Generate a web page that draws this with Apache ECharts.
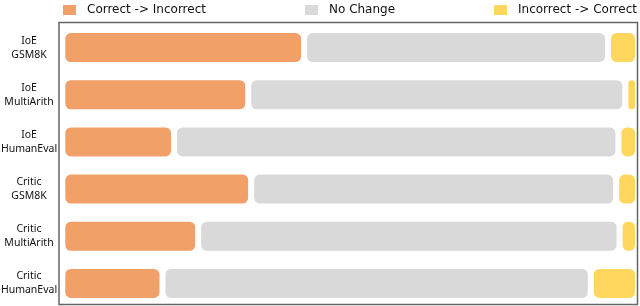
<!DOCTYPE html>
<html>
<head>
<meta charset="utf-8">
<script src="https://cdn.jsdelivr.net/npm/echarts@6/dist/echarts.min.js"></script>
<style>html,body{margin:0;padding:0;background:#fff;}#c{width:640px;height:306px;}</style>
</head>
<body>
<div id="c"></div>
<script>
const categories = ['IoE\nGSM8K', 'IoE\nMultiArith', 'IoE\nHumanEval', 'Critic\nGSM8K', 'Critic\nMultiArith', 'Critic\nHumanEval'];
const seriesNames = ['Correct -> Incorrect', 'No Change', 'Incorrect -> Correct'];
const correctToIncorrect = [42.0, 32.3, 19.4, 32.8, 23.6, 17.4];
const noChange = [52.8, 65.5, 77.2, 63.4, 73.2, 74.4];
const incorrectToCorrect = [5.2, 2.2, 3.4, 3.8, 3.2, 8.2];
const colors = ['#F1A068', '#D9D9D9', '#FFD75E'];
const FONT = 'DejaVu Sans';

const chart = echarts.init(document.getElementById('c'), null, {renderer: 'canvas'});
const legendBase = {
  top: 3, padding: 0, itemWidth: 15, itemHeight: 12, icon: 'rect',
  textStyle: {fontFamily: FONT, fontSize: 12, color: '#111', padding: [0, 0, 0, 5]}
};
function barSeries(name, data, color) {
  return {
    name: name, type: 'bar', stack: 'total', data: data,
    xAxisIndex: 0, yAxisIndex: 0, barWidth: 35,
    itemStyle: {color: color, borderColor: '#fff', borderWidth: 3, borderRadius: 7},
    emphasis: {disabled: true}
  };
}
chart.setOption({
  animation: false,
  legend: [
    Object.assign({}, legendBase, {left: 61, data: [seriesNames[0]]}),
    Object.assign({}, legendBase, {left: 303, data: [seriesNames[1]]}),
    Object.assign({}, legendBase, {left: 492, data: [seriesNames[2]]})
  ],
  grid: [
    {left: 60, right: 2, top: 24, bottom: -1, containLabel: false, outerBoundsMode: 'none'},
    {left: 59, right: 2.5, top: 22.5, bottom: 1.5, show: true, z: 10, borderColor: '#666', borderWidth: 1.5, backgroundColor: 'transparent', outerBoundsMode: 'none'}
  ],
  xAxis: [
    {type: 'value', gridIndex: 0, min: -0.4, max: 100, show: false, splitLine: {show: false}},
    {type: 'value', gridIndex: 1, show: false, splitLine: {show: false}}
  ],
  yAxis: [
    {type: 'category', gridIndex: 0, data: categories, inverse: true,
     axisLine: {show: false}, axisTick: {show: false},
     axisLabel: {fontFamily: 'Noto Sans', fontSize: 10.5, color: '#111', align: 'center', margin: 31, lineHeight: 14}},
    {type: 'category', gridIndex: 1, show: false, data: []}
  ],
  series: [
    barSeries(seriesNames[0], correctToIncorrect, colors[0]),
    barSeries(seriesNames[1], noChange, colors[1]),
    barSeries(seriesNames[2], incorrectToCorrect, colors[2])
  ]
});
</script>
</body>
</html>
